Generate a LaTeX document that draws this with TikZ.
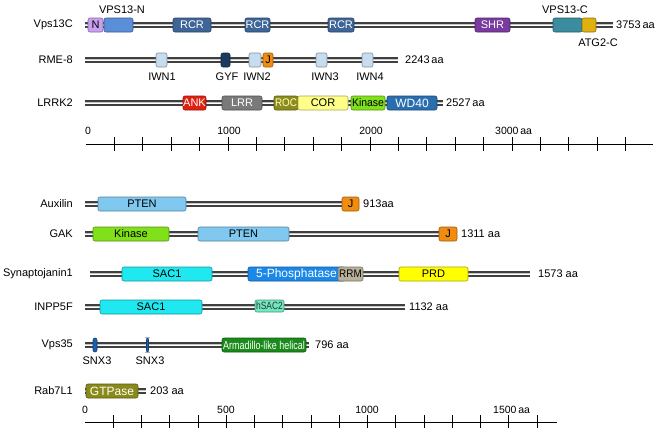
\documentclass[tikz,border=0pt]{standalone}
\usepackage{fontspec}
\usepackage{graphicx}
\setmainfont{Liberation Sans}
\definecolor{cN}{HTML}{C9A0EE}
\definecolor{cVN}{HTML}{5A8ED8}
\definecolor{cRCR}{HTML}{3D6597}
\definecolor{cSHR}{HTML}{7A3A9E}
\definecolor{cVC}{HTML}{3A8C9E}
\definecolor{cATG}{HTML}{E0B010}
\definecolor{cIWN}{HTML}{C8DCF0}
\definecolor{cGYF}{HTML}{1A3A60}
\definecolor{cJ}{HTML}{F08C10}
\definecolor{cANK}{HTML}{E02010}
\definecolor{cLRR}{HTML}{7A7A7A}
\definecolor{cROC}{HTML}{8C8C1C}
\definecolor{cCOR}{HTML}{FFFF88}
\definecolor{cKin}{HTML}{80E01A}
\definecolor{cWD}{HTML}{2A6EB0}
\definecolor{cPTEN}{HTML}{80C8F0}
\definecolor{cSAC}{HTML}{20E8F0}
\definecolor{cPhos}{HTML}{1A88E8}
\definecolor{cRRM}{HTML}{B8B098}
\definecolor{cPRD}{HTML}{FFFF00}
\definecolor{cHS}{HTML}{70E8C0}
\definecolor{cSNX}{HTML}{1A60B0}
\definecolor{cArm}{HTML}{1A8A1A}
\definecolor{cGTP}{HTML}{8A8A1A}
\definecolor{cROCt}{HTML}{FFFFC0}
\newcommand\protbar[3]{% y, x1, x2
  \draw[line width=6pt, black!75] (#2,#1) -- (#3,#1);
  \draw[line width=2.6pt, black!22] (#2,#1) -- (#3,#1);
  \draw[line width=0.7pt, white] (#2,#1) -- (#3,#1);}
\newcommand\dombox[7]{% name, x1, x2, y, fill, textcolor, text
  \pgfmathsetmacro\dx{#3-#2}\pgfmathsetmacro\cx{(#2+#3)/2}%
  \node[dbox, fill=#5, draw=#5!65!black, text=#6, minimum width=\dx pt] (#1) at (\cx,#4) {#7};}
\tikzset{
  dbox/.style={rectangle, rounded corners=2pt, line width=0.6pt, minimum height=14pt, inner sep=0pt, font=\fontsize{11}{11}\selectfont},
  pname/.style={anchor=east, inner sep=0pt, font=\fontsize{11}{11}\selectfont},
  plen/.style={anchor=west, inner sep=0pt, font=\fontsize{11}{11}\selectfont},
  dlab/.style={inner sep=0pt, font=\fontsize{11}{11}\selectfont},
  axlab/.style={inner sep=0pt, font=\fontsize{10.5}{10.5}\selectfont},
  axline/.style={line width=0.8pt, black},
}
\begin{document}
\begin{tikzpicture}[x=1pt, y=-1pt]
\useasboundingbox[fill=white] (0,0) rectangle (660,437);
% ===== Top section =====
% Vps13C
\node[pname] (n1) at (73,25) {Vps13C};
\protbar{25}{85}{613}
\dombox{vN}{88}{103}{25}{cN}{black}{N}
\dombox{vVN}{104}{133}{25}{cVN}{white}{}
\dombox{vR1}{173}{211}{25}{cRCR}{white}{RCR}
\dombox{vR2}{245}{270}{25}{cRCR}{white}{RCR}
\dombox{vR3}{328}{354}{25}{cRCR}{white}{RCR}
\dombox{vSHR}{475}{510}{25}{cSHR}{white}{SHR}
\dombox{vVC}{553}{582}{25}{cVC}{white}{}
\dombox{vATG}{582}{596}{25}{cATG}{white}{}
\node[dlab] (lVN) at (122,10) {VPS13-N};
\node[dlab] (lVC) at (565,10) {VPS13-C};
\node[dlab] (lATG) at (598,43) {ATG2-C};
\node[plen] (len1) at (616,25) {3753\,aa};
% RME-8
\node[pname] (n2) at (73,60) {RME-8};
\protbar{60}{85}{398}
\dombox{r1}{156}{167}{60}{cIWN}{black}{}
\dombox{rG}{221}{230}{60}{cGYF}{white}{}
\dombox{r2}{249}{261}{60}{cIWN}{black}{}
\dombox{rJ}{263}{273}{60}{cJ}{black}{J}
\dombox{r3}{316}{327}{60}{cIWN}{black}{}
\dombox{r4}{362}{373}{60}{cIWN}{black}{}
\node[dlab] (lr1) at (162,77) {IWN1};
\node[dlab] (lrG) at (227,77) {GYF};
\node[dlab] (lr2) at (257,77) {IWN2};
\node[dlab] (lr3) at (325,77) {IWN3};
\node[dlab] (lr4) at (370,77) {IWN4};
\node[plen] (len2) at (405,60) {2243\,aa};
% LRRK2
\node[pname] (n3) at (73,103) {LRRK2};
\protbar{103}{85}{443}
\dombox{lANK}{183}{206}{103}{cANK}{white}{ANK}
\dombox{lLRR}{222}{262}{103}{cLRR}{white}{LRR}
\dombox{lROC}{274}{298}{103}{cROC}{cROCt}{\scalebox{0.9}[1]{ROC}}
\dombox{lCOR}{298}{348}{103}{cCOR}{black}{COR}
\dombox{lKin}{351}{385}{103}{cKin}{black}{\scalebox{0.95}[1]{Kinase}}
\dombox{lWD}{387}{437}{103}{cWD}{white}{\fontsize{12}{12}\selectfont WD40}
\node[plen] (len3) at (446,103) {2527\,aa};
% top axis
\coordinate (ta0) at (86,144);
\coordinate (ta1) at (653,144);
\draw[axline] (ta0) -- (ta1);
\foreach \i in {1,...,19} {
  \draw[axline] ({86+\i*28.4},137) -- ({86+\i*28.4},151);
}
\node[axlab] (t0) at (88,131) {0};
\node[axlab] (t1) at (229,131) {1000};
\node[axlab] (t2) at (371,131) {2000};
\node[axlab, anchor=west] (t3) at (495,131) {3000\,aa};
% ===== Bottom section =====
% Auxilin
\node[pname] (m1) at (73,204) {Auxilin};
\protbar{204}{85}{346}
\dombox{aP}{98}{186}{204}{cPTEN}{black}{PTEN}
\dombox{aJ}{342}{359}{204}{cJ}{black}{J}
\node[plen] (len4) at (363,204) {913aa};
% GAK
\node[pname] (m2) at (73,234) {GAK};
\protbar{234}{85}{442}
\dombox{gK}{93}{169}{234}{cKin}{black}{Kinase}
\dombox{gP}{198}{289}{234}{cPTEN}{black}{PTEN}
\dombox{gJ}{439}{457}{234}{cJ}{black}{J}
\node[plen] (len5) at (461,234) {1311 aa};
% Synaptojanin1
\node[pname] (m3) at (73,274) {Synaptojanin1};
\protbar{274}{90}{530}
\dombox{sS}{122}{212}{274}{cSAC}{black}{SAC1}
\dombox{sP}{248}{345}{274}{cPhos}{white}{\fontsize{12}{12}\selectfont 5-Phosphatase}
\dombox{sR}{338}{363}{274}{cRRM}{black}{\scalebox{0.9}[1]{RRM}}
\dombox{sD}{399}{468}{274}{cPRD}{black}{PRD}
\node[plen] (len6) at (538,274) {1573 aa};
% INPP5F
\node[pname] (m4) at (73,307) {INPP5F};
\protbar{307}{85}{405}
\dombox{iS}{100}{202}{307}{cSAC}{black}{SAC1}
\node[dbox, fill=cHS, draw=cHS!65!black, minimum width=29pt, minimum height=12pt, text=black!80] (iH) at (269.5,306) {\scalebox{0.8}[1]{\fontsize{10.5}{10.5}\selectfont hSAC2}};
\node[plen] (len7) at (409,307) {1132 aa};
% Vps35
\node[pname] (m5) at (73,345) {Vps35};
\protbar{345}{85}{309}
\dombox{vs1}{93}{97}{345}{cSNX}{white}{}
\dombox{vs2}{146.5}{148.5}{345}{cSNX}{white}{}
\node[dbox, fill=cArm, draw=cArm!65!black, minimum width=84pt, text=white] (vA) at (264,345) {\scalebox{0.78}[1]{\fontsize{11.5}{11.5}\selectfont Armadillo-like helical}};
\node[dlab] (lvs1) at (97,361) {SNX3};
\node[dlab] (lvs2) at (150,361) {SNX3};
\node[plen] (len8) at (315,345) {796 aa};
% Rab7L1
\node[pname] (m6) at (73,391) {Rab7L1};
\protbar{391}{85}{146}
\dombox{rG2}{86}{138}{391}{cGTP}{white}{\fontsize{12}{12}\selectfont GTPase}
\node[plen] (len9) at (150,391) {203 aa};
% bottom axis
\coordinate (ba0) at (85,422);
\coordinate (ba1) at (557,422);
\draw[axline] (ba0) -- (ba1);
\foreach \i in {1,...,16} {
  \draw[axline] ({85+\i*28.25},415) -- ({85+\i*28.25},428);
}
\node[axlab] (b0) at (85,410) {0};
\node[axlab] (b1) at (226,410) {500};
\node[axlab] (b2) at (367,410) {1000};
\node[axlab, anchor=west] (b3) at (493,410) {1500\,aa};
\end{tikzpicture}
\end{document}
